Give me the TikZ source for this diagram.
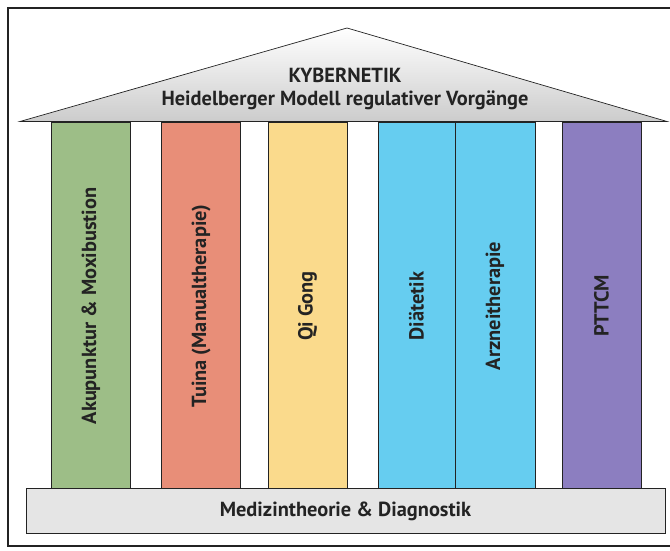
\documentclass[tikz,border=0pt]{standalone}
\usepackage{fontspec}
\setmainfont{PT Sans}
\usepackage{tikz}
\usetikzlibrary{positioning}

\definecolor{akugreen}{RGB}{157,190,135}
\definecolor{tuinared}{RGB}{232,142,120}
\definecolor{qiyellow}{RGB}{250,218,140}
\definecolor{diaetblue}{RGB}{102,205,240}
\definecolor{tcmpurple}{RGB}{140,126,192}
\definecolor{inkgray}{RGB}{35,35,35}

\begin{document}
\begin{tikzpicture}[
  pillar/.style={draw=inkgray, rotate=90, minimum width=7.36cm, minimum height=1.58cm, inner sep=0pt, font=\bfseries\fontsize{11.6}{13}\selectfont, text=inkgray},
  roofText/.style={font=\bfseries\fontsize{11.6}{13}\selectfont, text=inkgray, inner sep=1pt}
]
\useasboundingbox (0,0) rectangle (13.4,11);
\draw[line width=1.2pt, inkgray] (13.5,10.84) -- (0.16,10.84) -- (0.16,0.08) -- (13.5,0.08);

% roof
\draw[inkgray, top color=white, bottom color=black!20] (0.4,8.57) -- (6.94,10.44) -- (13.34,8.57) -- cycle;
\node[roofText] (Kybernetik) at (6.9,9.5) {KYBERNETIK};
\node[roofText, below=2.5pt of Kybernetik] (Heidelberg) {Heidelberger Modell regulativer Vorgänge};

% pillars
\node[pillar, fill=akugreen] (Akupunktur) at (1.82,4.88) {Akupunktur \& Moxibustion};
\node[pillar, fill=tuinared] (Tuina) at (4.02,4.88) {Tuina (Manualtherapie)};
\node[pillar, fill=qiyellow] (QiGong) at (6.15,4.88) {Qi Gong};
\node[pillar, fill=diaetblue, minimum height=1.54cm] (Diaetetik) at (8.33,4.88) {Diätetik};
\node[pillar, fill=diaetblue, minimum height=1.6cm] (Arznei) at (9.90,4.88) {Arzneitherapie};
\node[pillar, fill=tcmpurple] (PTTCM) at (12.03,4.88) {PTTCM};

% base
\node[draw=inkgray, fill=black!10, minimum width=12.78cm, minimum height=0.9cm, font=\bfseries\fontsize{11.6}{13}\selectfont, text=inkgray] (Medizin) at (6.91,0.78) {Medizintheorie \& Diagnostik};
\end{tikzpicture}
\end{document}
